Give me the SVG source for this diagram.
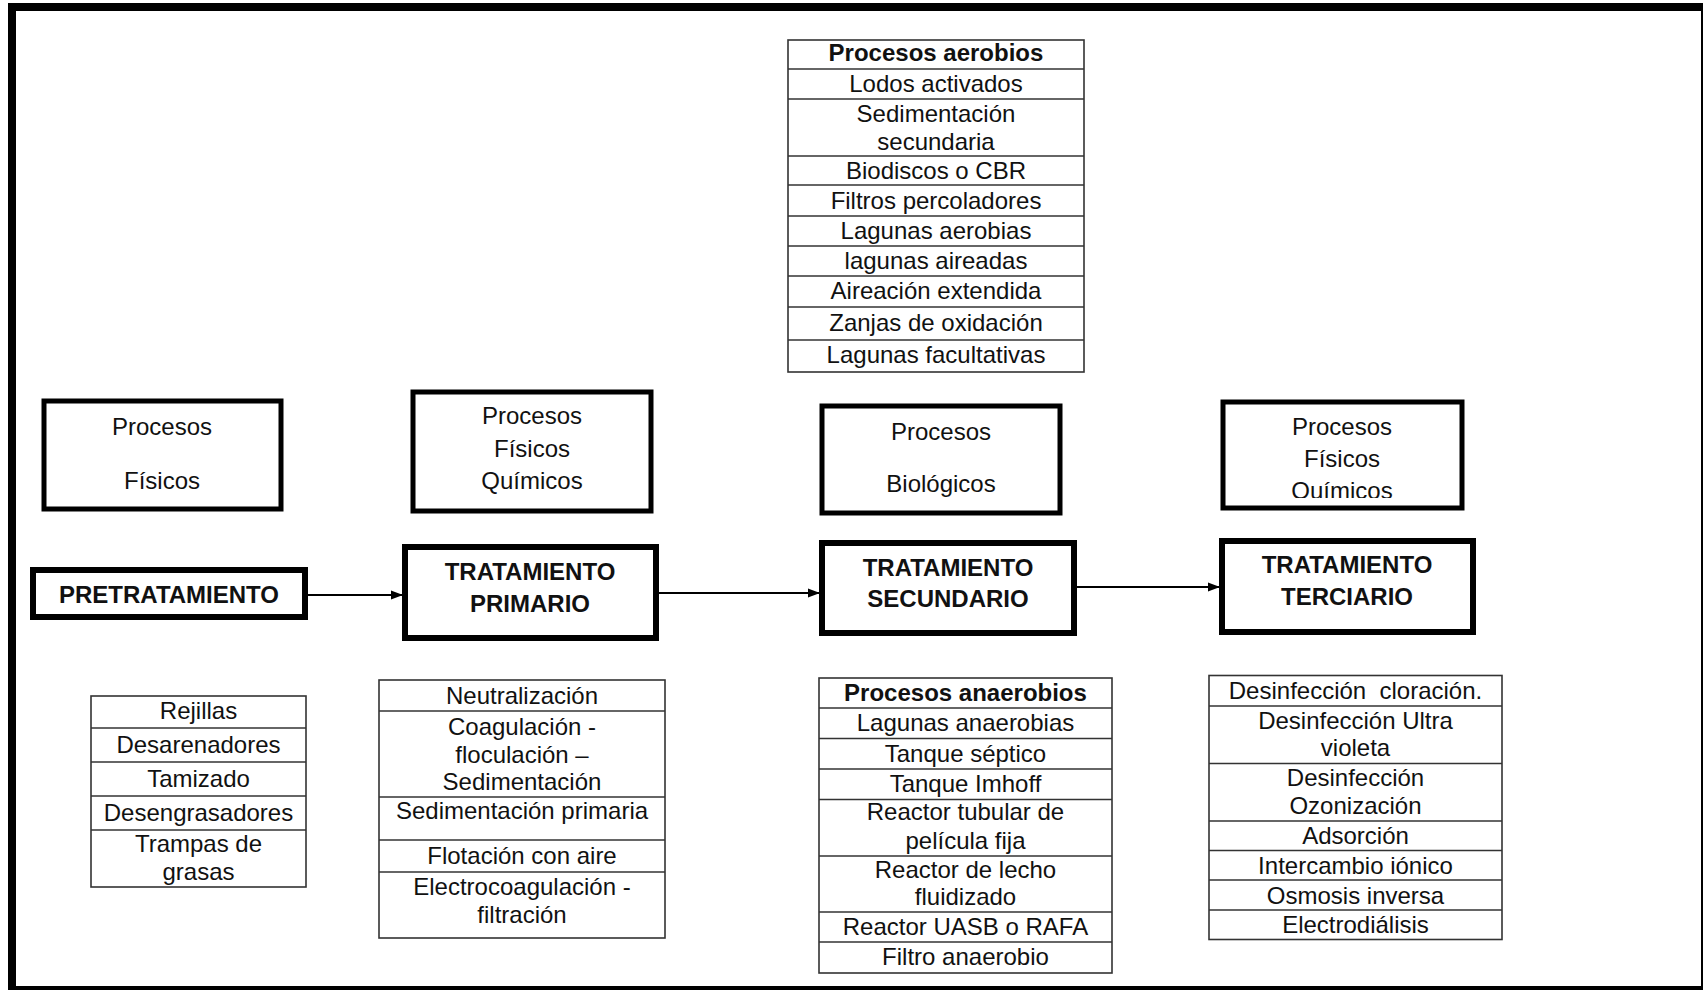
<svg xmlns="http://www.w3.org/2000/svg" width="1703" height="990" viewBox="0 0 1703 990">
<style>
text{font-family:"Liberation Sans",Arial,sans-serif;font-size:24px;fill:#111;text-anchor:middle}
.b{font-weight:bold}
.tb{fill:#fff;stroke:#333;stroke-width:1.6}
.ln{stroke:#333;stroke-width:1.6}
.box{fill:#fff;stroke:#000;stroke-width:5}
.main{fill:#fff;stroke:#000;stroke-width:6}
.cn{stroke:#000;stroke-width:2;fill:none}
</style>
<defs>
<marker id="ah" markerWidth="12" markerHeight="12" refX="11" refY="6" orient="auto" markerUnits="userSpaceOnUse">
<path d="M0,1.5 L12,6 L0,10.5 Z" fill="#000"/>
</marker>
<clipPath id="clip4"><rect x="1223" y="402" width="239" height="96"/></clipPath>
</defs>
<rect x="0" y="0" width="1703" height="990" fill="#fff"/>
<rect x="12" y="7" width="1693" height="983" fill="none" stroke="#000" stroke-width="8"/>

<g id="aerobios">
<rect class="tb" x="788" y="40" width="296" height="332"/>
<line class="ln" x1="788" y1="69" x2="1084" y2="69"/>
<line class="ln" x1="788" y1="99" x2="1084" y2="99"/>
<line class="ln" x1="788" y1="156" x2="1084" y2="156"/>
<line class="ln" x1="788" y1="185" x2="1084" y2="185"/>
<line class="ln" x1="788" y1="216" x2="1084" y2="216"/>
<line class="ln" x1="788" y1="246" x2="1084" y2="246"/>
<line class="ln" x1="788" y1="276" x2="1084" y2="276"/>
<line class="ln" x1="788" y1="307" x2="1084" y2="307"/>
<line class="ln" x1="788" y1="340" x2="1084" y2="340"/>
<text class="b" x="936" y="61">Procesos aerobios</text>
<text x="936" y="92">Lodos activados</text>
<text x="936" y="122">Sedimentación</text>
<text x="936" y="149.5">secundaria</text>
<text x="936" y="179">Biodiscos o CBR</text>
<text x="936" y="209">Filtros percoladores</text>
<text x="936" y="239">Lagunas aerobias</text>
<text x="936" y="269">lagunas aireadas</text>
<text x="936" y="299">Aireación extendida</text>
<text x="936" y="331">Zanjas de oxidación</text>
<text x="936" y="363">Lagunas facultativas</text>
</g>

<g id="proc-fisicos">
<rect class="box" x="44" y="401" width="237" height="108"/>
<text x="162" y="435">Procesos</text>
<text x="162" y="489">Físicos</text>
</g>
<g id="proc-fisicoquimicos-1">
<rect class="box" x="413" y="392" width="238" height="119"/>
<text x="532" y="424">Procesos</text>
<text x="532" y="456.5">Físicos</text>
<text x="532" y="489">Químicos</text>
</g>
<g id="proc-biologicos">
<rect class="box" x="822" y="406" width="238" height="107"/>
<text x="941" y="440">Procesos</text>
<text x="941" y="492">Biológicos</text>
</g>
<g id="proc-fisicoquimicos-2">
<rect class="box" x="1223" y="402" width="239" height="106"/>
<g clip-path="url(#clip4)">
<text x="1342" y="435">Procesos</text>
<text x="1342" y="467">Físicos</text>
<text x="1342" y="499">Químicos</text>
</g>
</g>

<g id="pretratamiento">
<rect class="main" x="33" y="570" width="272" height="47"/>
<text class="b" x="169" y="603">PRETRATAMIENTO</text>
</g>
<g id="primario">
<rect class="main" x="405" y="547" width="251" height="91"/>
<text class="b" x="530" y="579.5">TRATAMIENTO</text>
<text class="b" x="530" y="612">PRIMARIO</text>
</g>
<g id="secundario">
<rect class="main" x="822" y="543" width="252" height="90"/>
<text class="b" x="948" y="575.5">TRATAMIENTO</text>
<text class="b" x="948" y="607">SECUNDARIO</text>
</g>
<g id="terciario">
<rect class="main" x="1222" y="541" width="251" height="91"/>
<text class="b" x="1347" y="573">TRATAMIENTO</text>
<text class="b" x="1347" y="604.5">TERCIARIO</text>
</g>

<g id="connectors">
<line class="cn" x1="308" y1="595" x2="402" y2="595" marker-end="url(#ah)"/>
<line class="cn" x1="659" y1="593" x2="819" y2="593" marker-end="url(#ah)"/>
<line class="cn" x1="1077" y1="587" x2="1219" y2="587" stroke-width="1.5" marker-end="url(#ah)"/>
</g>

<g id="tabla-pretratamiento">
<rect class="tb" x="91" y="696" width="215" height="191"/>
<line class="ln" x1="91" y1="728" x2="306" y2="728"/>
<line class="ln" x1="91" y1="762" x2="306" y2="762"/>
<line class="ln" x1="91" y1="796" x2="306" y2="796"/>
<line class="ln" x1="91" y1="830" x2="306" y2="830"/>
<text x="198.5" y="719">Rejillas</text>
<text x="198.5" y="753">Desarenadores</text>
<text x="198.5" y="787">Tamizado</text>
<text x="198.5" y="821">Desengrasadores</text>
<text x="198.5" y="852">Trampas de</text>
<text x="198.5" y="880">grasas</text>
</g>

<g id="tabla-primario">
<rect class="tb" x="379" y="680" width="286" height="258"/>
<line class="ln" x1="379" y1="711" x2="665" y2="711"/>
<line class="ln" x1="379" y1="797" x2="665" y2="797"/>
<line class="ln" x1="379" y1="840" x2="665" y2="840"/>
<line class="ln" x1="379" y1="872" x2="665" y2="872"/>
<text x="522" y="703.5">Neutralización</text>
<text x="522" y="734.5">Coagulación -</text>
<text x="522" y="763">floculación –</text>
<text x="522" y="790">Sedimentación</text>
<text x="522" y="819">Sedimentación primaria</text>
<text x="522" y="864">Flotación con aire</text>
<text x="522" y="895">Electrocoagulación -</text>
<text x="522" y="922.5">filtración</text>
</g>

<g id="tabla-anaerobios">
<rect class="tb" x="819" y="678" width="293" height="295"/>
<line class="ln" x1="819" y1="708" x2="1112" y2="708"/>
<line class="ln" x1="819" y1="738.5" x2="1112" y2="738.5"/>
<line class="ln" x1="819" y1="769" x2="1112" y2="769"/>
<line class="ln" x1="819" y1="799.5" x2="1112" y2="799.5"/>
<line class="ln" x1="819" y1="856" x2="1112" y2="856"/>
<line class="ln" x1="819" y1="912" x2="1112" y2="912"/>
<line class="ln" x1="819" y1="942" x2="1112" y2="942"/>
<text class="b" x="965.5" y="701">Procesos anaerobios</text>
<text x="965.5" y="731">Lagunas anaerobias</text>
<text x="965.5" y="762">Tanque séptico</text>
<text x="965.5" y="792">Tanque Imhoff</text>
<text x="965.5" y="820">Reactor tubular de</text>
<text x="965.5" y="848.5">película fija</text>
<text x="965.5" y="878">Reactor de lecho</text>
<text x="965.5" y="905">fluidizado</text>
<text x="965.5" y="934.5">Reactor UASB o RAFA</text>
<text x="965.5" y="965">Filtro anaerobio</text>
</g>

<g id="tabla-terciario">
<rect class="tb" x="1209" y="675.5" width="293" height="264"/>
<line class="ln" x1="1209" y1="706" x2="1502" y2="706"/>
<line class="ln" x1="1209" y1="763.5" x2="1502" y2="763.5"/>
<line class="ln" x1="1209" y1="821" x2="1502" y2="821"/>
<line class="ln" x1="1209" y1="850.5" x2="1502" y2="850.5"/>
<line class="ln" x1="1209" y1="880" x2="1502" y2="880"/>
<line class="ln" x1="1209" y1="910" x2="1502" y2="910"/>
<text x="1355.5" y="699" xml:space="preserve">Desinfección  cloración.</text>
<text x="1355.5" y="729">Desinfección Ultra</text>
<text x="1355.5" y="756">violeta</text>
<text x="1355.5" y="785.5">Desinfección</text>
<text x="1355.5" y="814">Ozonización</text>
<text x="1355.5" y="844">Adsorción</text>
<text x="1355.5" y="873.5">Intercambio iónico</text>
<text x="1355.5" y="904">Osmosis inversa</text>
<text x="1355.5" y="933">Electrodiálisis</text>
</g>
</svg>
